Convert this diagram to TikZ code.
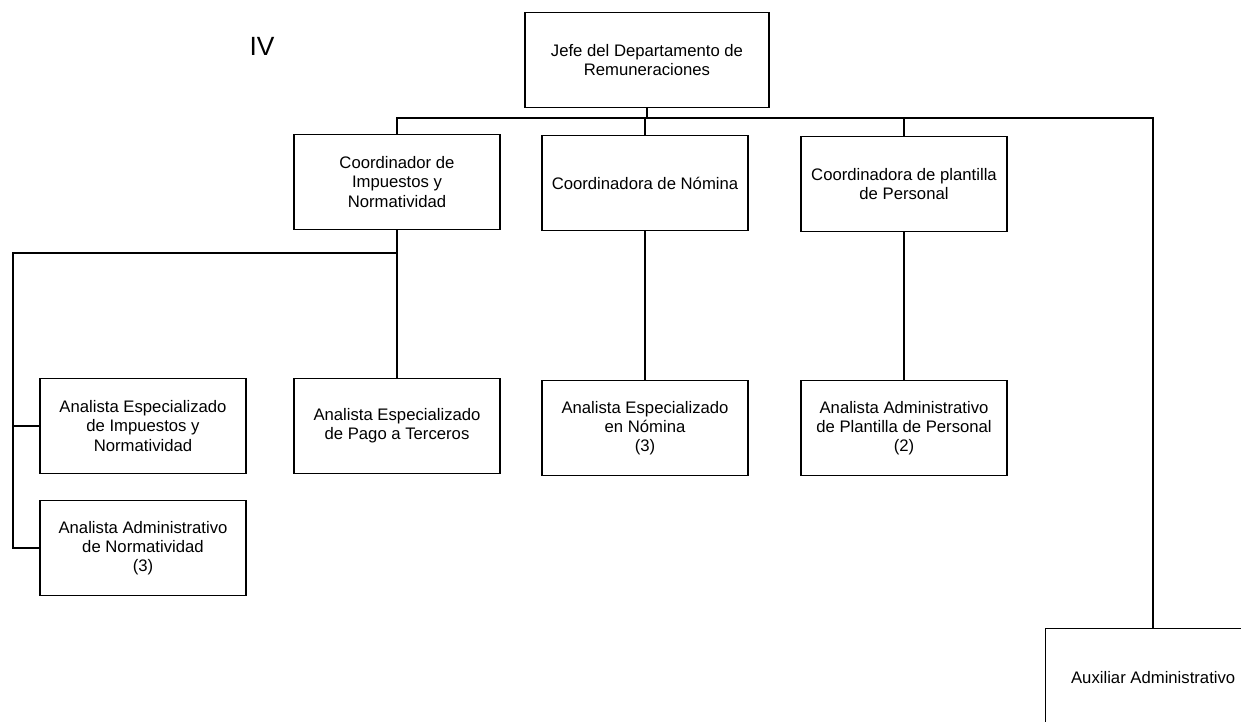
\documentclass[tikz,border=0pt]{standalone}
\usepackage{fontspec}
\setmainfont{Liberation Sans}
\begin{document}
\begin{tikzpicture}[x=0.02cm, y=-0.02cm,
    puesto/.style={draw, line width=0.8pt, align=center, inner sep=0pt,
        minimum width=4.12cm, minimum height=1.9cm, font=\fontsize{9.5}{11}\selectfont},
    enlace/.style={line width=1.1pt}]
    % Marco
    \useasboundingbox (0,0) rectangle (1241,721);
    \clip (0,0) rectangle (1241,721);
    
    % Titulo
    \node[font=\fontsize{15}{18}\selectfont] (num) at (262,46) {IV};
    
    % Jefe
    \node[puesto, minimum width=4.88cm] (jefe) at (647,60) {Jefe del Departamento de\\Remuneraciones};
    
    % Coordinaciones
    \node[puesto] (coordImp) at (397,182) {Coordinador de\\Impuestos y\\Normatividad};
    \node[puesto] (coordNom) at (645,183) {Coordinadora de Nómina};
    \node[puesto] (coordPlan) at (904,184) {Coordinadora de plantilla\\de Personal};
    
    % Analistas
    \node[puesto] (anaImp) at (143,426) {Analista Especializado\\de Impuestos y\\Normatividad};
    \node[puesto] (anaNorm) at (143,548) {Analista Administrativo\\de Normatividad\\(3)};
    \node[puesto] (anaPago) at (397,426) {Analista Especializado\\de Pago a Terceros};
    \node[puesto] (anaNom) at (645,428) {Analista Especializado\\en Nómina\\(3)};
    \node[puesto] (anaPlan) at (904,428) {Analista Administrativo\\de Plantilla de Personal\\(2)};
    
    % Auxiliar (sale del marco)
    \node[puesto, anchor=north west, minimum width=4.3cm, minimum height=1.96cm]
        (aux) at (1045,628) {Auxiliar Administrativo};
    
    % Lineas de mando
    \coordinate (barra) at (647,118);
    \draw[enlace] (jefe.south) -- (barra);
    \draw[enlace] (coordImp.north) |- (barra) -| (aux.north);
    \draw[enlace] (coordNom.north) -- (coordNom.north |- barra);
    \draw[enlace] (coordPlan.north) -- (coordPlan.north |- barra);
    
    % Ramal de impuestos
    \coordinate (ramal) at (397,253);
    \coordinate (lado) at (13,253);
    \draw[enlace] (coordImp.south) -- (ramal) -- (anaPago.north);
    \draw[enlace] (ramal) -- (lado) |- (anaNorm.west);
    \draw[enlace] (anaImp.west) -- (anaImp.west -| lado);
    
    % Nomina y plantilla
    \draw[enlace] (coordNom.south) -- (anaNom.north);
    \draw[enlace] (coordPlan.south) -- (anaPlan.north);
\end{tikzpicture}
\end{document}
